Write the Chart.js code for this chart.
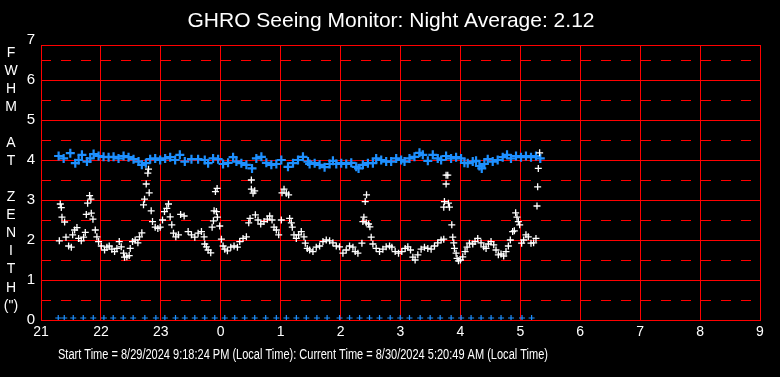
<!DOCTYPE html>
<html>
<head>
<meta charset="utf-8">
<script src="https://cdn.jsdelivr.net/npm/chart.js@4.4.1/dist/chart.umd.min.js"></script>
<style>
  html, body { margin: 0; padding: 0; background: #000; }
  #wrap { width: 780px; height: 377px; position: relative; }
</style>
</head>
<body>
<div id="wrap"><canvas id="seeingChart"></canvas></div>
<script>
// Hours are counted from 21:00 on the first night (24 = midnight, 29 = 5 AM)
const titleText = 'GHRO Seeing Monitor: Night Average: 2.12';
const footerText = 'Start Time = 8/29/2024 9:18:24 PM (Local Time): Current Time = 8/30/2024 5:20:49 AM (Local Time)';
const yAxisLetters = ['F', 'W', 'H', 'M', '', 'A', 'T', '', 'Z', 'E', 'N', 'I', 'T', 'H', '(")'];
const xTickHours = [21, 22, 23, 24, 25, 26, 27, 28, 29, 30, 31, 32, 33];
const yTickValues = [0, 1, 2, 3, 4, 5, 6, 7];

// blue series (average FWHM)
const blueHours = [21.294, 21.378, 21.489, 21.572, 21.628, 21.683, 21.767, 21.822, 21.878, 21.961, 22.044, 22.128, 22.211, 22.294, 22.378, 22.461, 22.544, 22.628, 22.683, 22.75, 22.822, 22.906, 22.989, 23.072, 23.156, 23.239,
  23.317, 23.4, 23.511, 23.622, 23.733, 23.789, 23.872, 23.956, 24.039, 24.122, 24.206, 24.261, 24.344, 24.428, 24.522, 24.594, 24.678, 24.761, 24.844, 24.928, 25.011, 25.122, 25.206, 25.289, 25.372, 25.456,
  25.483, 25.567, 25.65, 25.733, 25.817, 25.872, 25.928, 26.011, 26.094, 26.178, 26.261, 26.3, 26.372, 26.456, 26.539, 26.594, 26.678, 26.761, 26.844, 26.928, 27.011, 27.067, 27.15, 27.233, 27.317, 27.372, 27.456, 27.539, 27.622,
  27.678, 27.761, 27.844, 27.928, 28.011, 28.067, 28.122, 28.206, 28.261, 28.317, 28.356, 28.4, 28.456, 28.539, 28.622, 28.706, 28.778, 28.844, 28.928, 29.011, 29.094, 29.178, 29.261, 29.333];
const blueFwhm = [4.10, 4.04, 4.17, 3.92, 4.00, 4.13, 3.96, 4.04, 4.15, 4.10, 4.08, 4.07, 4.08, 4.04, 4.10, 4.07, 4.02, 3.96, 3.88, 3.92, 4.02, 4.04, 4.00, 4.04, 4.07, 4.00,
  4.13, 3.96, 4.02, 4.02, 4.00, 3.92, 4.04, 4.02, 3.90, 3.93, 4.07, 3.96, 3.92, 3.88, 3.79, 4.04, 4.08, 3.93, 3.88, 3.90, 4.00, 3.83, 3.92, 4.00, 4.08, 3.96,
  3.90, 3.92, 3.88, 3.82, 3.90, 3.98, 3.90, 3.92, 3.90, 3.93, 3.83, 3.79, 3.88, 3.92, 3.92, 4.04, 4.00, 3.96, 3.96, 4.04, 4.00, 3.96, 4.04, 4.08, 4.18, 4.13, 3.98, 4.13, 4.04,
  4.00, 4.10, 4.04, 4.07, 4.04, 3.93, 3.92, 3.96, 3.98, 3.85, 3.79, 3.90, 4.02, 3.96, 4.00, 4.07, 4.13, 4.04, 4.10, 4.07, 4.10, 4.07, 4.10, 4.04];

// white series (individual measurements)
const whiteHours = [21.322, 21.339, 21.35, 21.394, 21.306, 21.417, 21.461, 21.506, 21.528, 21.561, 21.6, 21.628, 21.672, 21.711, 21.739, 21.756, 21.778, 21.811, 21.833, 21.839, 21.867, 21.906, 21.933, 21.961, 22.006, 22.061, 22.1, 22.139, 22.183, 22.228, 22.267, 22.306, 22.339, 22.378, 22.394, 22.433, 22.472, 22.489, 22.528, 22.572, 22.617, 22.644, 22.683, 22.711, 22.728, 22.756, 22.783, 22.794, 22.806, 22.839, 22.861, 22.906, 22.95, 22.989, 23.028, 23.061, 23.1, 23.128, 23.156, 23.183, 23.211, 23.25, 23.294,
  23.33, 23.389, 23.456, 23.511, 23.567, 23.622, 23.678, 23.722, 23.733, 23.761, 23.789, 23.833, 23.856, 23.878, 23.889, 23.911, 23.928, 23.939, 23.944, 23.983, 24.011, 24.039, 24.067, 24.111, 24.167, 24.222, 24.278, 24.317, 24.372, 24.428, 24.467, 24.489, 24.511, 24.511, 24.539, 24.567, 24.578, 24.622, 24.667, 24.722, 24.778, 24.817, 24.856, 24.889, 24.928, 24.967, 25.011, 25.022, 25.056, 25.094, 25.133, 25.15, 25.178, 25.194, 25.222, 25.261, 25.3, 25.344, 25.389, 25.411, 25.444, 25.483, 25.539,
  25.594, 25.65, 25.706, 25.761, 25.817, 25.872, 25.928, 25.983, 26.039, 26.094, 26.15, 26.206, 26.244, 26.289, 26.356, 26.372, 26.389, 26.411, 26.433, 26.428, 26.467, 26.489, 26.511, 26.539, 26.594, 26.65, 26.706, 26.761, 26.817, 26.856, 26.911, 26.967, 27.022, 27.078, 27.122, 27.167, 27.206, 27.244, 27.289, 27.344, 27.4, 27.456, 27.511, 27.567, 27.622, 27.678, 27.722,
  27.722, 27.733, 27.8, 27.817, 27.761, 27.761, 27.789, 27.856, 27.872, 27.889, 27.9, 27.928, 27.944, 27.967, 28.0, 28.039, 28.078, 28.111, 28.15, 28.206, 28.244, 28.289, 28.344, 28.389, 28.428, 28.467, 28.511, 28.556, 28.594, 28.633, 28.678, 28.722, 28.761, 28.8, 28.833, 28.872, 28.9, 28.922, 28.944, 28.967, 28.989, 29.022, 29.056, 29.094, 29.133, 29.178, 29.222, 29.261, 29.278, 29.289, 29.3, 29.322];
const whiteFwhm = [2.90, 2.81, 2.57, 2.45, 1.98, 2.07, 1.85, 1.82, 2.13, 2.25, 2.31, 2.04, 1.98, 2.07, 2.19, 2.64, 2.92, 3.11, 3.02, 2.67, 2.52, 2.25, 2.08, 1.96, 1.85, 1.75, 1.82, 1.85, 1.77, 1.71, 1.79, 1.96, 1.83, 1.67, 1.57, 1.58, 1.61, 1.79, 1.96, 2.00, 1.93, 2.08, 2.18, 2.88, 3.02, 3.40, 3.67, 3.77, 3.18, 2.73, 2.46, 2.32, 2.29, 2.32, 2.50, 2.71, 2.79, 2.90, 2.58, 2.38, 2.17, 2.08, 2.13,
  2.64, 2.60, 2.21, 2.13, 2.07, 2.17, 2.21, 2.08, 1.90, 1.83, 1.75, 1.68, 2.32, 2.48, 2.73, 3.21, 2.71, 3.29, 2.57, 2.35, 2.02, 1.85, 1.77, 1.73, 1.82, 1.85, 1.82, 1.96, 2.04, 2.08, 2.43, 2.54, 3.50, 3.27, 3.17, 3.23, 2.63, 2.50, 2.40, 2.46, 2.52, 2.60, 2.50, 2.32, 2.25, 2.13, 2.50, 3.18, 3.27, 3.17, 3.13, 2.54, 2.43, 2.32, 2.13, 2.04, 2.13, 2.21, 2.08, 1.92, 1.79, 1.75, 1.71,
  1.82, 1.85, 1.96, 2.00, 1.98, 1.93, 1.85, 1.83, 1.67, 1.75, 1.85, 1.82, 1.71, 1.67, 1.92, 2.46, 2.57, 2.96, 3.13, 2.43, 2.40, 2.33, 2.07, 1.90, 1.79, 1.71, 1.77, 1.83, 1.85, 1.82, 1.71, 1.67, 1.71, 1.79, 1.83, 1.75, 1.57, 1.50, 1.63, 1.77, 1.82, 1.79, 1.77, 1.85, 1.93, 2.00, 2.02,
  2.82, 2.96, 2.92, 2.82, 3.40, 3.62, 3.62, 2.38, 2.07, 1.93, 1.79, 1.67, 1.54, 1.48, 1.50, 1.58, 1.71, 1.82, 1.92, 1.90, 1.96, 2.04, 1.93, 1.83, 1.79, 1.90, 1.96, 1.88, 1.75, 1.63, 1.65, 1.60, 1.71, 1.85, 2.00, 2.21, 2.23, 2.68, 2.57, 2.46, 2.38, 1.92, 2.00, 2.13, 2.08, 1.92, 1.93, 2.04, 2.85, 3.33, 3.79, 4.18];

// blue markers along the bottom (one per 10-minute block)
const baseHours = [21.288, 21.388, 21.538, 21.705, 21.872, 22.05, 22.205, 22.372, 22.538, 22.733, 22.917, 23.067, 23.245, 23.4, 23.567, 23.733, 23.9, 24.067, 24.233, 24.4, 24.567, 24.75, 24.928, 25.095, 25.262, 25.428, 25.605, 25.775, 25.983, 26.15, 26.317, 26.483, 26.65, 26.828, 26.995, 27.15, 27.328, 27.495, 27.662, 27.845, 28.012, 28.178, 28.345, 28.512, 28.678, 28.845, 29.028, 29.188];
const baseLevel = 0.05;

const halfLines = [0.5, 1.5, 2.5, 3.5, 4.5, 5.5, 6.5];

function toPoints(xs, ys) {
    return xs.map((x, i) => ({ x: x, y: Array.isArray(ys) ? ys[i] : ys }));
}

const fontFamily = '"Liberation Sans", Arial, sans-serif';

const decorPlugin = {
    id: 'decor',
    beforeDatasetsDraw(chart) {
        const { ctx, chartArea, scales } = chart;
        ctx.save();
        ctx.strokeStyle = '#ff0000';
        ctx.lineWidth = 1;
        ctx.setLineDash([10, 10]);
        halfLines.forEach(v => {
            const y = Math.round(scales.y.getPixelForValue(v)) + 0.5;
            ctx.beginPath();
            ctx.moveTo(chartArea.left, y);
            ctx.lineTo(chartArea.right, y);
            ctx.stroke();
        });
        ctx.setLineDash([]);
        ctx.strokeRect(Math.round(chartArea.left) + 0.5, Math.round(chartArea.top) + 0.5,
            Math.round(chartArea.right - chartArea.left), Math.round(chartArea.bottom - chartArea.top));
        ctx.restore();
    },
    afterDraw(chart) {
        const { ctx, scales } = chart;
        ctx.save();
        ctx.fillStyle = '#ffffff';

        // title
        ctx.font = '21px ' + fontFamily;
        ctx.textAlign = 'center';
        ctx.textBaseline = 'middle';
        ctx.fillText(titleText, 391, 21);

        // top tick label sits above the plot frame
        ctx.font = '15px ' + fontFamily;
        ctx.textAlign = 'right';
        ctx.fillText(String(yTickValues[yTickValues.length - 1]), 35, scales.y.getPixelForValue(7));

        // stacked axis title
        ctx.font = '14px ' + fontFamily;
        ctx.textAlign = 'center';
        yAxisLetters.forEach((ch, i) => {
            if (ch) ctx.fillText(ch, 11, 53 + i * 18.05);
        });

        // footer, condensed like the original
        ctx.font = '14px ' + fontFamily;
        const w = ctx.measureText(footerText).width;
        ctx.translate(303, 355);
        ctx.scale(490 / w, 1);
        ctx.fillText(footerText, 0, 0);
        ctx.restore();
    }
};

const ctx = document.getElementById('seeingChart').getContext('2d');
new Chart(ctx, {
    type: 'scatter',
    data: {
        datasets: [
            {
                label: 'FWHM',
                data: toPoints(whiteHours, whiteFwhm),
                pointStyle: 'cross',
                pointRadius: 3.5,
                pointBorderWidth: 1.3,
                borderColor: '#ffffff',
                backgroundColor: '#ffffff'
            },
            {
                label: 'Average',
                data: toPoints(blueHours, blueFwhm),
                pointStyle: 'cross',
                pointRadius: 4.5,
                pointBorderWidth: 2.2,
                borderColor: '#1e90ff',
                backgroundColor: '#1e90ff'
            },
            {
                label: 'Samples',
                data: toPoints(baseHours, baseLevel),
                pointStyle: 'cross',
                pointRadius: 3,
                pointBorderWidth: 1.2,
                borderColor: '#1e90ff',
                backgroundColor: '#1e90ff'
            }
        ]
    },
    options: {
        responsive: true,
        maintainAspectRatio: false,
        animation: false,
        events: [],
        layout: { padding: { top: 45, right: 20, left: 0, bottom: 0 } },
        plugins: {
            legend: { display: false },
            tooltip: { enabled: false }
        },
        scales: {
            x: {
                type: 'linear',
                min: xTickHours[0],
                max: xTickHours[xTickHours.length - 1],
                afterFit: scale => { scale.height = 57; },
                afterBuildTicks: scale => { scale.ticks = xTickHours.map(v => ({ value: v })); },
                grid: { color: '#ff0000', lineWidth: 1, drawTicks: false },
                border: { color: '#ff0000', width: 1 },
                ticks: {
                    color: '#ffffff',
                    padding: 4,
                    maxRotation: 0,
                    font: { size: 14, family: fontFamily },
                    callback: v => String(v % 24)
                }
            },
            y: {
                type: 'linear',
                min: 0,
                max: 6.875,
                afterFit: scale => { scale.width = 41; },
                afterBuildTicks: scale => { scale.ticks = yTickValues.slice(0, -1).map(v => ({ value: v })); },
                grid: { color: '#ff0000', lineWidth: 1, drawTicks: false },
                border: { color: '#ff0000', width: 1 },
                ticks: {
                    color: '#ffffff',
                    padding: 6,
                    font: { size: 15, family: fontFamily },
                    callback: v => String(v)
                }
            }
        }
    },
    plugins: [decorPlugin]
});
</script>
</body>
</html>
